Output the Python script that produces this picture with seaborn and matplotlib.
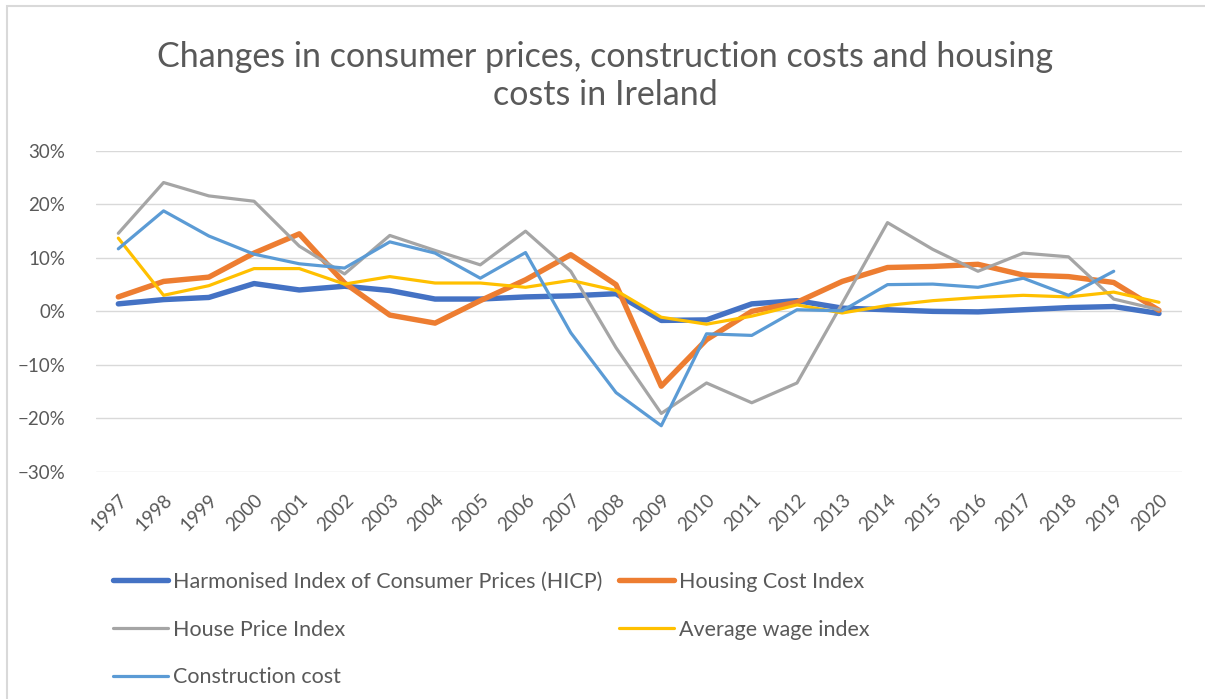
import numpy as np
import pandas as pd
import matplotlib
matplotlib.use("Agg")
import matplotlib.pyplot as plt
from matplotlib.patches import Rectangle
from matplotlib.ticker import PercentFormatter
import seaborn as sns

# data (annual % change)
years = [str(y) for y in range(1997, 2021)]
hicp = [1.4, 2.2, 2.6, 5.2, 4.0, 4.7, 3.9, 2.3, 2.3, 2.7, 2.9, 3.3, -1.7, -1.6,
        1.4, 2.0, 0.6, 0.3, 0.0, -0.1, 0.3, 0.7, 0.9, -0.4]
housing_cost = [2.7, 5.6, 6.4, 10.9, 14.5, 5.3, -0.7, -2.2, 2.0, 5.9, 10.6, 5.0,
                -14.0, -5.3, 0.0, 1.7, 5.6, 8.2, 8.4, 8.8, 6.8, 6.5, 5.4, 0.2]
house_price = [14.6, 24.1, 21.6, 20.6, 12.2, 7.0, 14.2, 11.4, 8.7, 15.0, 7.5, -6.8,
               -19.1, -13.4, -17.1, -13.4, 1.5, 16.6, 11.6, 7.5, 10.9, 10.2, 2.3, 0.3]
avg_wage = [13.7, 3.0, 4.8, 8.0, 8.0, 5.1, 6.5, 5.3, 5.3, 4.5, 5.8, 3.9, -1.1, -2.4,
            -0.9, 1.2, -0.3, 1.1, 2.0, 2.6, 3.0, 2.7, 3.6, 1.7]
construction = [11.7, 18.8, 14.1, 10.7, 8.9, 8.1, 13.0, 10.9, 6.2, 11.0, -4.0, -15.2,
                -21.4, -4.2, -4.5, 0.3, 0.1, 5.0, 5.1, 4.5, 6.2, 3.0, 7.5, np.nan]

series = [
    ("Harmonised Index of Consumer Prices (HICP)", hicp, "#4472C4", 3.9),
    ("Housing Cost Index", housing_cost, "#ED7D31", 3.9),
    ("House Price Index", house_price, "#A5A5A5", 2.3),
    ("Average wage index", avg_wage, "#FFC000", 2.3),
    ("Construction cost", construction, "#5B9BD5", 2.3),
]

sns.set_style("white")
plt.rcParams['font.family'] = ['Lato', 'DejaVu Sans']
txt_col = "#595959"

fig = plt.figure(figsize=(12.05, 6.99), dpi=100)
ax = fig.add_axes([95.7 / 1205, 1 - 471.7 / 699, (1181.6 - 95.7) / 1205, (471.7 - 151) / 699])

pos = np.arange(len(years))
for name, vals, col, lw in series:
    df = pd.DataFrame({"x": pos, "y": np.array(vals) / 100.0})
    sns.lineplot(data=df, x="x", y="y", ax=ax, color=col, linewidth=lw, label=name,
                 solid_capstyle="round", solid_joinstyle="round")

h, l = ax.get_legend_handles_labels()
ax.get_legend().remove()
lookup = dict(zip(l, h))

ax.set_xlim(-0.5, len(years) - 0.5)
ax.set_ylim(-0.3, 0.3)
ax.set_yticks(np.arange(-0.3, 0.31, 0.1))
ax.yaxis.set_major_formatter(PercentFormatter(1.0, decimals=0))
ax.set_xticks(pos)
ax.set_xticklabels(years, rotation=45, ha="right", rotation_mode="anchor")
ax.tick_params(axis="both", length=0, labelsize=13.5, colors=txt_col)
ax.tick_params(axis="y", pad=22)
ax.tick_params(axis="x", pad=14)
ax.grid(axis="y", color="#D9D9D9", linewidth=1.0)
ax.grid(axis="x", visible=False)
ax.set_axisbelow(True)
for s in ax.spines.values():
    s.set_visible(False)
ax.set_xlabel("")
ax.set_ylabel("")

fig.text(0.502, 1 - 76 / 699, "Changes in consumer prices, construction costs and housing\ncosts in Ireland",
         ha="center", va="center", fontsize=24.5, color=txt_col, linespacing=1.25)

order = ["Harmonised Index of Consumer Prices (HICP)", "House Price Index", "Construction cost",
         "Housing Cost Index", "Average wage index"]
leg = fig.legend([lookup[k] for k in order], order, ncol=2, loc="upper left",
                 bbox_to_anchor=(113 / 1205, 1 - 572 / 699), frameon=False,
                 fontsize=15.5, handlelength=2.55, handletextpad=0.25, columnspacing=0.75,
                 labelspacing=1.28, borderpad=0, borderaxespad=0)
for t in leg.get_texts():
    t.set_color(txt_col)

# chart border like the spreadsheet chart area
fig.patches.append(Rectangle((7 / 1205, -0.05), 1.2, 1 - 6 / 699 + 0.05, transform=fig.transFigure,
                             fill=False, edgecolor="#D9D9D9", linewidth=1.5))

fig.savefig("out.png", dpi=100)
